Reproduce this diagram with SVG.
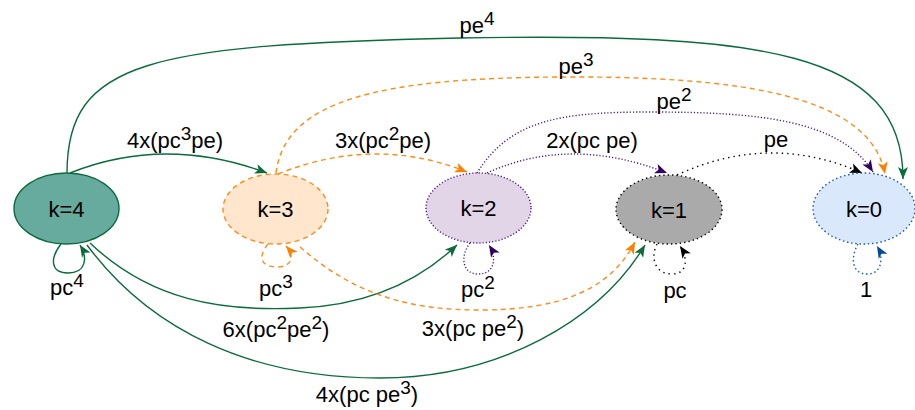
<svg xmlns="http://www.w3.org/2000/svg" width="915" height="410" viewBox="0 0 915 410">
<style>
text{font-family:"Liberation Sans",Arial,Helvetica,sans-serif;font-size:22px;fill:#000;text-anchor:middle}
.e{fill:none;stroke-width:1.4}
.g{stroke:#0B6B3B}
.o{stroke:#FF8C1A;stroke-dasharray:5 4}
.p{stroke:#4C1A8C;stroke-dasharray:1.2 2}
.k{stroke:#000;stroke-dasharray:1.4 4}
.b{stroke:#1F5FAD;stroke-dasharray:1.6 2.6}
</style>
<defs>
<marker id="ag" markerUnits="userSpaceOnUse" markerWidth="14" markerHeight="12" refX="12" refY="5" orient="auto" overflow="visible"><path d="M0,0 L12,5 L0,10 L3,5 Z" fill="#0B6B3B"/></marker>
<marker id="ao" markerUnits="userSpaceOnUse" markerWidth="14" markerHeight="12" refX="12" refY="5" orient="auto" overflow="visible"><path d="M0,0 L12,5 L0,10 L3,5 Z" fill="#FF8000"/></marker>
<marker id="ap" markerUnits="userSpaceOnUse" markerWidth="14" markerHeight="12" refX="12" refY="5" orient="auto" overflow="visible"><path d="M0,0 L12,5 L0,10 L3,5 Z" fill="#330066"/></marker>
<marker id="ak" markerUnits="userSpaceOnUse" markerWidth="14" markerHeight="12" refX="12" refY="5" orient="auto" overflow="visible"><path d="M0,0 L12,5 L0,10 L3,5 Z" fill="#000"/></marker>
<marker id="ab" markerUnits="userSpaceOnUse" markerWidth="14" markerHeight="12" refX="12" refY="5" orient="auto" overflow="visible"><path d="M0,0 L12,5 L0,10 L3,5 Z" fill="#004C99"/></marker>
</defs>
<g id="connectors">
<path class="e g" d="M67,173 C67,60 150,45 460,38 C760,33 903,50 903,179" marker-end="url(#ag)"/>
<path class="e o" d="M276,173 C285,100 380,78 560,77 C740,76 870,95 885,174" marker-end="url(#ao)"/>
<path class="e p" d="M477,173 C510,120 560,112 650,112 C760,112 840,120 873,172" marker-end="url(#ap)"/>
<path class="e p" d="M487,173 Q570,135 667,173" marker-end="url(#ap)"/>
<path class="e k" d="M677,175 Q770,132 862,173" marker-end="url(#ak)"/>
<path class="e g" d="M70,173 Q165,135 267,173" marker-end="url(#ag)"/>
<path class="e o" d="M278,174 Q375,135 467,172" marker-end="url(#ao)"/>
<path class="e g" d="M90,243 C150,300 220,312 300,308 C370,305 420,280 457,245" marker-end="url(#ag)"/>
<path class="e g" d="M87,245 C150,330 250,378 380,378 C500,378 600,320 645,245" marker-end="url(#ag)"/>
<path class="e o" d="M300,247 C360,300 420,310 480,310 C560,310 610,290 635,242" marker-end="url(#ao)"/>
<path class="e g" d="M61,244 C50,258 50,273 68,273 C86,273 88,258 80,245" marker-end="url(#ag)"/>
<path class="e o" d="M268,244 C258,256 260,267 277,267 C293,267 294,255 286,246" marker-end="url(#ao)"/>
<path class="e p" d="M470,243 C460,256 462,274 478,274 C495,274 497,258 489,245" marker-end="url(#ap)"/>
<path class="e k" d="M657,244 C650,258 655,274 672,274 C688,274 688,258 680,246" marker-end="url(#ak)"/>
<path class="e b" d="M858,244 C850,258 852,274 867,274 C882,274 884,258 877,246" marker-end="url(#ab)"/>
</g>
<g id="labels">
<text x="477" y="33">pe<tspan font-size="19" dy="-8">4</tspan></text>
<text x="576" y="74">pe<tspan font-size="19" dy="-8">3</tspan></text>
<text x="674" y="109">pe<tspan font-size="19" dy="-8">2</tspan></text>
<text x="592" y="148">2x(pc pe)</text>
<text x="776" y="147">pe</text>
<text x="175" y="148">4x(pc<tspan font-size="19" dy="-8">3</tspan><tspan dy="8">pe)</tspan></text>
<text x="383" y="148">3x(pc<tspan font-size="19" dy="-8">2</tspan><tspan dy="8">pe)</tspan></text>
<text x="67" y="295">pc<tspan font-size="19" dy="-8">4</tspan></text>
<text x="276" y="296">pc<tspan font-size="19" dy="-8">3</tspan></text>
<text x="478" y="297">pc<tspan font-size="19" dy="-8">2</tspan></text>
<text x="675" y="298">pc</text>
<text x="866" y="297">1</text>
<text x="276" y="337">6x(pc<tspan font-size="19" dy="-8">2</tspan><tspan dy="8">pe</tspan><tspan font-size="19" dy="-8">2</tspan><tspan dy="8">)</tspan></text>
<text x="473" y="336">3x(pc pe<tspan font-size="19" dy="-8">2</tspan><tspan dy="8">)</tspan></text>
<text x="367" y="402">4x(pc pe<tspan font-size="19" dy="-8">3</tspan><tspan dy="8">)</tspan></text>
</g>
<g id="k4"><ellipse cx="66.5" cy="208.5" rx="52.5" ry="35.5" fill="#67AB9F" stroke="#0B6B3B" stroke-width="1.4"/><text x="66.5" y="216.5">k=4</text></g>
<g id="k3"><ellipse cx="275.5" cy="209" rx="52.5" ry="35" fill="#FFE6CC" stroke="#FF8C1A" stroke-width="1.4" stroke-dasharray="5 4"/><text x="275.5" y="217">k=3</text></g>
<g id="k2"><ellipse cx="478.5" cy="208" rx="52.5" ry="35" fill="#E1D5E7" stroke="#4C1A8C" stroke-width="1.4" stroke-dasharray="1.2 2"/><text x="478.5" y="216">k=2</text></g>
<g id="k1"><ellipse cx="669" cy="209.5" rx="53" ry="34.5" fill="#AAAAAA" stroke="#000" stroke-width="1.4" stroke-dasharray="1.4 3"/><text x="669" y="217.5">k=1</text></g>
<g id="k0"><ellipse cx="864" cy="208.5" rx="51" ry="35.5" fill="#DAE8FC" stroke="#1F5FAD" stroke-width="1.4" stroke-dasharray="1.6 2.6"/><text x="864" y="216.5">k=0</text></g>
</svg>
